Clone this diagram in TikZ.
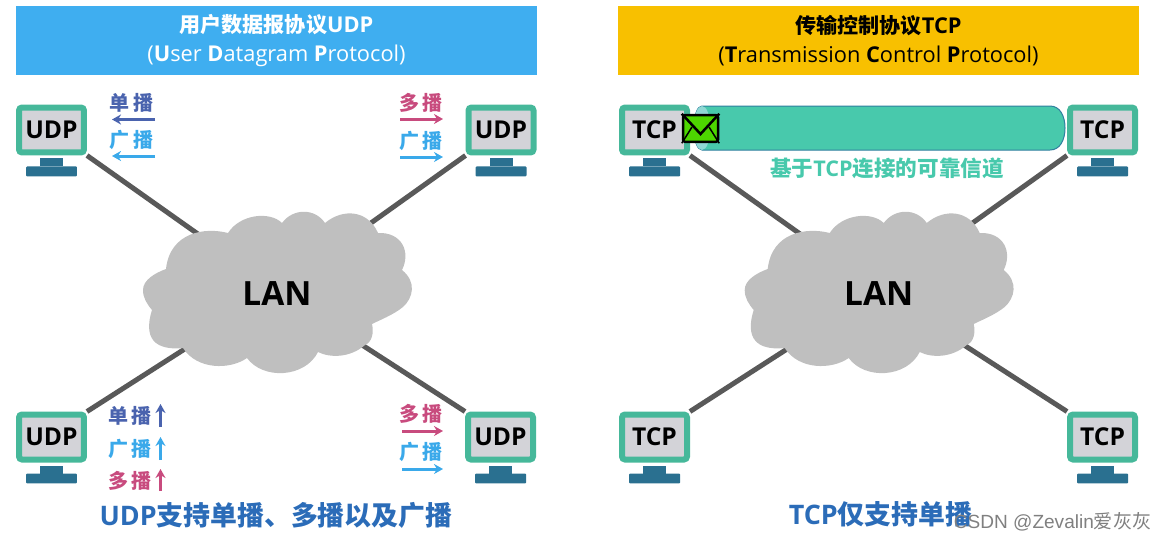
\documentclass[tikz,border=0pt]{standalone}
\usepackage{fontspec}
\setmainfont{Open Sans}
\newfontfamily\cjk{Noto Sans CJK SC}
\newfontfamily\markfont{Liberation Sans}
\usepackage{tikz}
\usetikzlibrary{arrows.meta,positioning}

\definecolor{udpblue}{HTML}{3FAEF0}
\definecolor{tcpyellow}{HTML}{F8C000}
\definecolor{pcgreen}{HTML}{46B89A}
\definecolor{pcscreen}{HTML}{D3D3D8}
\definecolor{pcstand}{HTML}{2A7090}
\definecolor{linkgray}{HTML}{595959}
\definecolor{cloudgray}{HTML}{BFBFBF}
\definecolor{unicol}{HTML}{4A63AE}
\definecolor{broadcol}{HTML}{3AA9EA}
\definecolor{multicol}{HTML}{C84B7E}
\definecolor{chancol}{HTML}{48C9AC}
\definecolor{chanend}{HTML}{8FD8D4}
\definecolor{chanline}{HTML}{2F7F9F}
\definecolor{sumblue}{HTML}{2B6CB8}
\definecolor{mailgreen}{HTML}{4DD600}

\newcommand{\cloudpath}{(-134,0)
  .. controls (-134,-10) and (-122,-17) .. (-111,-21)
  .. controls (-107,-58) and (-72,-63) .. (-49,-57)
  .. controls (-37,-76) and (-7,-79) .. (5,-67)
  .. controls (16,-82) and (38,-82) .. (48,-67)
  .. controls (66,-82) and (91,-80) .. (101,-57)
  .. controls (125,-58) and (134,-38) .. (125,-20)
  .. controls (140,-8) and (136,8) .. (126,17)
  .. controls (116,25) and (103,30) .. (95,34)
  .. controls (97,43) and (95,52) .. (88,55)
  .. controls (73,68) and (53,68) .. (41,62)
  .. controls (28,88) and (-14,90) .. (-30,68)
  .. controls (-47,80) and (-80,80) .. (-94,58)
  .. controls (-114,60) and (-136,55) .. (-125,20)
  .. controls (-130,14) and (-134,8) .. (-134,0) -- cycle}

\begin{document}
\begin{tikzpicture}[
    x=0.02cm, y=-0.02cm,
    header/.style={rectangle, minimum width=10.42cm, minimum height=1.38cm, align=center, inner sep=0pt,
      font=\fontsize{12.4pt}{15.5pt}\selectfont},
    monitor/.style={rectangle, draw=pcgreen, fill=pcscreen, line width=0.12cm, rounded corners=0.06cm,
      minimum width=1.3cm, minimum height=0.9cm, inner sep=0pt, font=\fontsize{14pt}{16pt}\selectfont\bfseries},
    neck/.style={rectangle, fill=pcstand, minimum width=0.46cm, minimum height=0.16cm, inner sep=0pt, outer sep=0pt},
    foot/.style={rectangle, fill=pcstand, rounded corners=0.02cm, minimum width=1.02cm, minimum height=0.2cm, inner sep=0pt, outer sep=0pt},
    link/.style={linkgray, line width=0.1cm},
    cloudfill/.style={fill=cloudgray},
    lanlabel/.style={font=\fontsize{19pt}{21pt}\selectfont\bfseries, inner sep=0pt},
    cast/.style={font=\fontsize{11.4pt}{13pt}\selectfont\cjk\bfseries, inner sep=0pt},
    sig/.style={-{Stealth[length=0.18cm,width=0.2cm]}, line width=0.06cm},
    summary/.style={text=sumblue, font=\fontsize{15.3pt}{17pt}\selectfont\bfseries, inner sep=0pt}
]
% Header bars
\node[header, fill=udpblue, text=white] (udphead) at (276.5,40.5) {{\cjk\bfseries\fontsize{12pt}{15.5pt}\selectfont 用户数据报协议}\textbf{UDP}\\[1pt](\textbf{U}ser \textbf{D}atagram \textbf{P}rotocol)};
\node[header, fill=tcpyellow, text=black] (tcphead) at (878.5,40.5) {{\cjk\bfseries\fontsize{12pt}{15.5pt}\selectfont 传输控制协议}\textbf{TCP}\\[1pt](\textbf{T}ransmission \textbf{C}ontrol \textbf{P}rotocol)};

% Computers
\foreach \name/\x/\y/\txt in {ua/51.5/130/UDP, ub/501/130/UDP, uc/51.5/437/UDP, ud/500.5/437/UDP,
    ta/654.5/130/TCP, tb/1102.5/130/TCP, tc/654.5/437/TCP, td/1102.5/437/TCP} {
  \node[monitor] (\name) at (\x,\y) {\txt};
  \node[neck, below=0.06cm of \name] (\name neck) {};
  \node[foot, below=0cm of \name neck] (\name foot) {};
}

% Links to the LAN clouds
\coordinate (ulan) at (277,290);
\coordinate (tlan) at (878.7,290);
\draw[link] (ua.south east) -- (ulan);
\draw[link] (ub.south west) -- (ulan);
\draw[link] (uc.north east) -- (ulan);
\draw[link] (ud.north west) -- (ulan);
\draw[link] (ta.south east) -- (tlan);
\draw[link] (tb.south west) -- (tlan);
\draw[link] (tc.north east) -- (tlan);
\draw[link] (td.north west) -- (tlan);

% Clouds
\fill[cloudfill, shift={(277,290)}] \cloudpath;
\fill[cloudfill, shift={(878.7,290)}] \cloudpath;
\node[lanlabel] (ulabel) at (277,294) {LAN};
\node[lanlabel] (tlabel) at (878.7,294) {LAN};

% Casting labels, UDP side
\node[cast, text=unicol] (uni1) at (131.5,103) {单\hspace{2pt}播};
\node[cast, text=broadcol] (brd1) at (131.5,140) {广\hspace{2pt}播};
\node[cast, text=multicol] (mul2) at (421,103) {多\hspace{2pt}播};
\node[cast, text=broadcol] (brd2) at (421,141) {广\hspace{2pt}播};
\node[cast, text=unicol] (uni3) at (130,416) {单\hspace{2pt}播};
\node[cast, text=broadcol] (brd3) at (130,449) {广\hspace{2pt}播};
\node[cast, text=multicol] (mul3) at (130,481) {多\hspace{2pt}播};
\node[cast, text=multicol] (mul4) at (421,414) {多\hspace{2pt}播};
\node[cast, text=broadcol] (brd4) at (421,452) {广\hspace{2pt}播};

% Casting arrows
\draw[sig, unicol] (155,119.5) coordinate (uni1a) -- (112,119.5) coordinate (uni1b);
\draw[sig, broadcol] (155,156) coordinate (brd1a) -- (112,156) coordinate (brd1b);
\draw[sig, multicol] (400,119) coordinate (mul2a) -- (443,119) coordinate (mul2b);
\draw[sig, broadcol] (400,157) coordinate (brd2a) -- (443,157) coordinate (brd2b);
\draw[sig, unicol] (160.5,427) coordinate (uni3a) -- (160.5,404) coordinate (uni3b);
\draw[sig, broadcol] (160.5,460) coordinate (brd3a) -- (160.5,437) coordinate (brd3b);
\draw[sig, multicol] (160.5,491) coordinate (mul3a) -- (160.5,469) coordinate (mul3b);
\draw[sig, multicol] (402,431) coordinate (mul4a) -- (443,431) coordinate (mul4b);
\draw[sig, broadcol] (402,469) coordinate (brd4a) -- (443,469) coordinate (brd4b);

% Reliable channel
\filldraw[fill=chancol, draw=chanline, line width=0.02cm] (702,106) -- (1050,106)
  .. controls (1060,106) and (1065,116) .. (1065,128)
  .. controls (1065,140) and (1060,150) .. (1050,150) -- (702,150)
  .. controls (697,150) and (694,140) .. (694,128)
  .. controls (694,116) and (697,106) .. (702,106) -- cycle;
\fill[chanend] (702,106) .. controls (697,106) and (694,116) .. (694,128)
  .. controls (694,140) and (697,150) .. (702,150)
  .. controls (707,150) and (710,140) .. (710,128)
  .. controls (710,116) and (707,106) .. (702,106) -- cycle;
\node[text=chancol, font=\fontsize{12.3pt}{14pt}\selectfont\bfseries, inner sep=0pt] (chantext) at (887,168) {{\cjk 基于}TCP{\cjk 连接的可靠信道}};

% Envelope
\node[rectangle, draw=black, fill=mailgreen, line width=0.05cm, rounded corners=0.05cm,
  minimum width=0.7cm, minimum height=0.54cm, inner sep=0pt] (mail) at (700.5,128.5) {};
\coordinate (mailfold) at (700.5,134);
\draw[black, line width=0.05cm] (mail.north west) -- (mailfold) -- (mail.north east);
\draw[black, line width=0.03cm] (mail.south west) -- (692,127);
\draw[black, line width=0.03cm] (mail.south east) -- (709,127);

% Summaries
\node[summary] (usum) at (276,515) {UDP{\cjk 支持单播、多播以及广播}};
\node[summary] (tsum) at (880.5,514) {TCP{\cjk 仅支持单播}};

% Watermark
\node[text=black!50, font=\fontsize{10.85pt}{13pt}\selectfont\markfont, inner sep=0pt] (mark) at (1052.5,522) {CSDN @Zevalin{\cjk 爱灰灰}};

\useasboundingbox (0,0) rectangle (1165,541);
\end{tikzpicture}
\end{document}
